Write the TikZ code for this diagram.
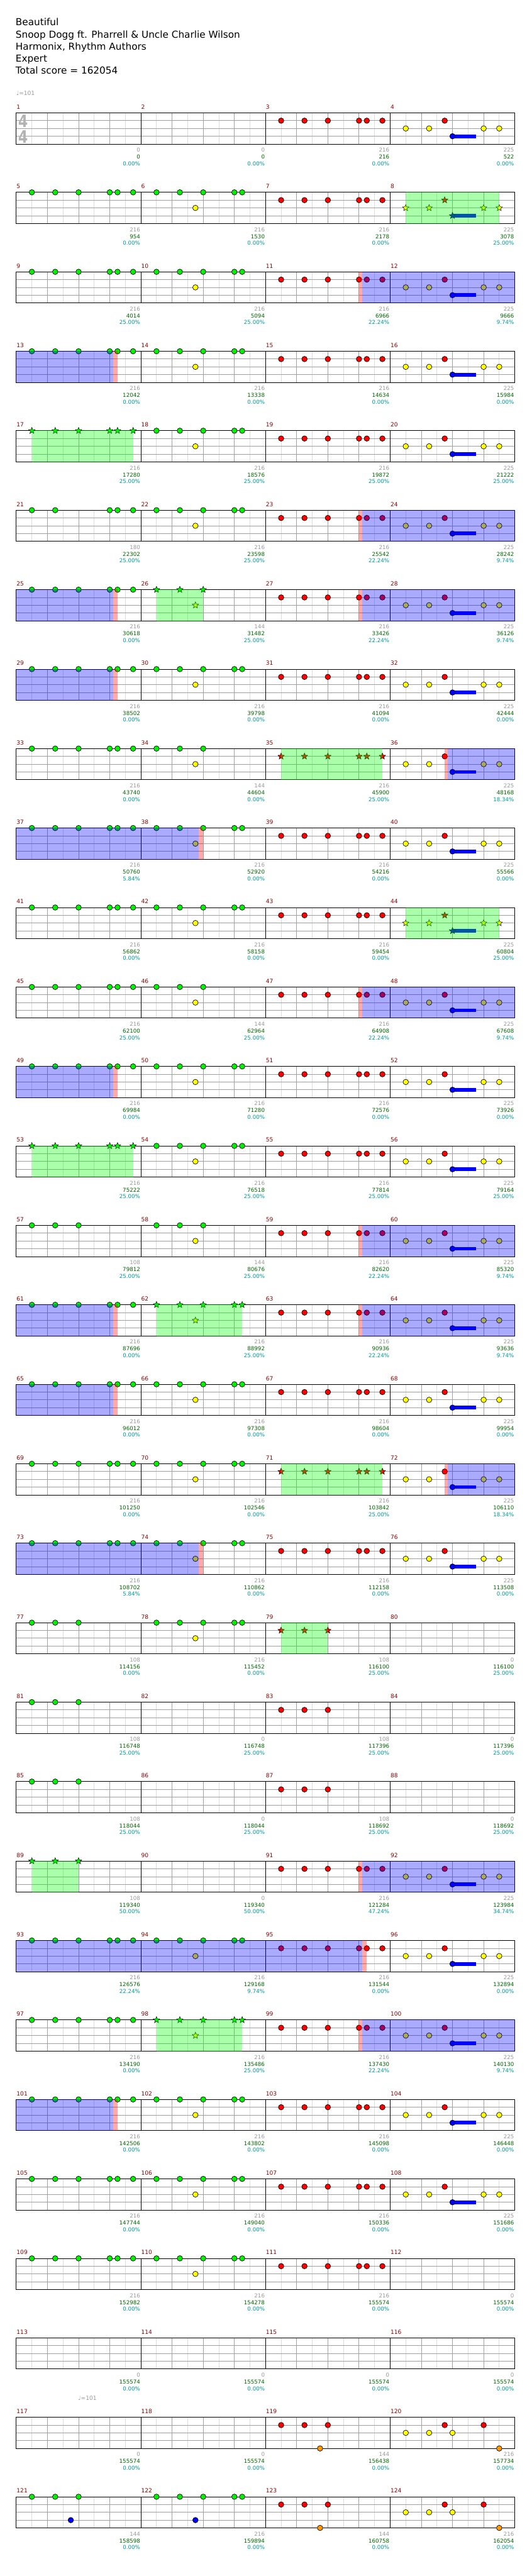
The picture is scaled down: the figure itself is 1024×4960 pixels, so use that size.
\documentclass[tikz,border=0pt]{standalone}
\usepackage{fontspec}
\setmainfont{DejaVu Sans}
\usepackage{tikz}
\usetikzlibrary{shapes.geometric}

\definecolor{barred}{RGB}{140,0,0}
\definecolor{scoregray}{RGB}{153,153,153}
\definecolor{totalgreen}{RGB}{0,100,0}
\definecolor{pctcyan}{RGB}{0,153,153}
\definecolor{gridlight}{RGB}{220,220,220}
\definecolor{gridmid}{RGB}{160,160,160}
\definecolor{gemgreen}{RGB}{0,240,0}
\definecolor{gemred}{RGB}{255,0,0}
\definecolor{gemyellow}{RGB}{255,255,0}
\definecolor{gemblue}{RGB}{0,0,255}
\definecolor{gemorange}{RGB}{255,153,0}

\newcommand\nt[4]{\node[#1,fill=#4] (g\thism-#2-#3) at (15*#2,15*#3) {};}
\newcommand\patA[1]{\foreach \p in {2,5,8,12,13,15}{\nt{#1}{\p}{0}{gemgreen}}}
\newcommand\patAs[1]{\foreach \p in {2,5,8}{\nt{#1}{\p}{0}{gemgreen}}}
\newcommand\patAg[1]{\foreach \p in {2,5,12,13,15}{\nt{#1}{\p}{0}{gemgreen}}}
\newcommand\patB[1]{\nt{#1}{7}{2}{gemyellow}\foreach \p in {2,5,8,12,13}{\nt{#1}{\p}{0}{gemgreen}}}
\newcommand\patBs[1]{\nt{#1}{7}{2}{gemyellow}\foreach \p in {2,5,8}{\nt{#1}{\p}{0}{gemgreen}}}
\newcommand\patC[1]{\foreach \p in {2,5,8,12,13,15}{\nt{#1}{\p}{1}{gemred}}}
\newcommand\patCs[1]{\foreach \p in {2,5,8}{\nt{#1}{\p}{1}{gemred}}}
\newcommand\patD[1]{\fill[sustain] (120,41.5) rectangle (165,48.5);
  \foreach \p in {2,5,12,14}{\nt{#1}{\p}{2}{gemyellow}}\nt{#1}{7}{1}{gemred}\nt{#1}{8}{3}{gemblue}}
\newcommand\patE{\foreach \p in {2,5,8}{\nt{gem}{\p}{1}{gemred}}\nt{gem}{7}{4}{gemorange}}
\newcommand\patF{\foreach \p in {2,5,8}{\nt{gem}{\p}{2}{gemyellow}}\foreach \p in {7,12}{\nt{gem}{\p}{1}{gemred}}\nt{gem}{14}{4}{gemorange}}
\newcommand\patG{\foreach \p in {2,5,8}{\nt{gem}{\p}{0}{gemgreen}}\nt{gem}{7}{3}{gemblue}}
\newcommand\patH{\foreach \p in {2,5,8,12,13}{\nt{gem}{\p}{0}{gemgreen}}\nt{gem}{7}{3}{gemblue}}
\newcommand\spzone[2]{\fill[starzone] (15*#1,-0.5) rectangle (15*#2,60.5);}

\newcommand\meas[5]{%
  \pgfmathtruncatemacro\mrow{(#1-1)/4}%
  \pgfmathtruncatemacro\mcol{#1-1-4*\mrow}%
  \def\thism{#1}%
  \begin{scope}[shift={(31.33+240*\mcol,217.33+153*\mrow)}]
    \node[barnum] (num#1) at (0.5,-7.3) {#1};
    #5
    \node[score=scoregray] (pts#1) at (238.7,75.4) {#2};
    \node[score=totalgreen] (tot#1) at (238.7,88.7) {#3};
    \node[score=pctcyan] (pct#1) at (238.7,101.4) {#4\%};
  \end{scope}}

\newcommand\odstart[2]{%
  \pgfmathsetmacro\odt{217.33+153*(#1-1)}%
  \fill[odmark] (#2,\odt-0.5) rectangle (#2+6,\odt+60.5);
  \fill[odzone] (#2+6,\odt-0.5) rectangle (991.83,\odt+60.5);}
\newcommand\odend[2]{%
  \pgfmathsetmacro\odt{217.33+153*(#1-1)}%
  \fill[odzone] (30.83,\odt-0.5) rectangle (#2-8.5,\odt+60.5);
  \fill[odmark] (#2-8.5,\odt-0.5) rectangle (#2,\odt+60.5);}

\begin{document}
\begin{tikzpicture}[x=1pt, y=-1pt,
  headline/.style={anchor=base west, inner sep=0, font=\fontsize{18.5}{22}\selectfont},
  tempo/.style={anchor=base west, inner sep=0, text=scoregray, font=\fontsize{11}{13}\selectfont},
  timesig/.style={inner sep=0, text=gray!60, xscale=0.8, font=\fontsize{33}{36}\selectfont\bfseries},
  barnum/.style={anchor=base west, inner sep=0, text=barred, font=\fontsize{11}{13}\selectfont},
  score/.style={anchor=base east, inner sep=0, text=#1, font=\fontsize{10.5}{12}\selectfont},
  offbeat/.style={draw=gridlight, line width=1pt},
  beat/.style={draw=gridmid, line width=1pt},
  lane/.style={draw=gridmid, line width=1pt},
  barline/.style={draw=black, line width=1pt},
  gem/.style={circle, draw=black, line width=0.8pt, minimum size=10.5pt, inner sep=0},
  sgem/.style={star, star points=5, star point ratio=2.3, draw=black, line width=0.6pt, minimum size=13pt, inner sep=0},
  sustain/.style={fill=gemblue},
  starzone/.style={fill=green, fill opacity=0.333},
  odzone/.style={fill=blue, fill opacity=0.333},
  odmark/.style={fill=red, fill opacity=0.333},
]
\useasboundingbox (0,0) rectangle (1024,4960);
\fill[white] (0,0) rectangle (1024,4960);

\node[headline] (song) at (30,49.3) {Beautiful};
\node[headline] (artist) at (30,72.7) {Snoop Dogg ft.  Pharrell \& Uncle Charlie Wilson};
\node[headline] (authors) at (30,96) {Harmonix,  Rhythm  Authors};
\node[headline] (level) at (30,118.7) {Expert};
\node[headline] (total) at (30,141.7) {Total score = 162054};
\node[tempo] (bpm1) at (31.33,184) {♩=101};
\node[tempo] (bpm2) at (150.5,4621.6) {♩=101};

\foreach \r in {0,...,30} {
  \begin{scope}[shift={(31.33,217.33+153*\r)}]
    \foreach \x in {30,90,...,930} \draw[offbeat] (\x,0) -- (\x,60);
    \foreach \x in {60,120,180,300,360,420,540,600,660,780,840,900} \draw[beat] (\x,0) -- (\x,60);
    \foreach \yy in {15,30,45} \draw[lane] (0,\yy) -- (960,\yy);
    \foreach \x in {240,480,720} \draw[barline] (\x,0) -- (\x,60);
    \draw[barline] (0,0) rectangle (960,60);
  \end{scope}}

\node[timesig] (tsigtop) at (44.5,233) {4};
\node[timesig] (tsigbot) at (44.5,263) {4};

\meas{1}{0}{0}{0.00}{}
\meas{2}{0}{0}{0.00}{}
\meas{3}{216}{216}{0.00}{\patC{gem}}
\meas{4}{225}{522}{0.00}{\patD{gem}}
\meas{5}{216}{954}{0.00}{\patA{gem}}
\meas{6}{216}{1530}{0.00}{\patB{gem}}
\meas{7}{216}{2178}{0.00}{\patC{gem}}
\meas{8}{225}{3078}{25.00}{\patD{sgem}\spzone{2}{14}}
\meas{9}{216}{4014}{25.00}{\patA{gem}}
\meas{10}{216}{5094}{25.00}{\patB{gem}}
\meas{11}{216}{6966}{22.24}{\patC{gem}}
\meas{12}{225}{9666}{9.74}{\patD{gem}}
\meas{13}{216}{12042}{0.00}{\patA{gem}}
\meas{14}{216}{13338}{0.00}{\patB{gem}}
\meas{15}{216}{14634}{0.00}{\patC{gem}}
\meas{16}{225}{15984}{0.00}{\patD{gem}}
\meas{17}{216}{17280}{25.00}{\patA{sgem}\spzone{2}{15}}
\meas{18}{216}{18576}{25.00}{\patB{gem}}
\meas{19}{216}{19872}{25.00}{\patC{gem}}
\meas{20}{225}{21222}{25.00}{\patD{gem}}
\meas{21}{180}{22302}{25.00}{\patAg{gem}}
\meas{22}{216}{23598}{25.00}{\patB{gem}}
\meas{23}{216}{25542}{22.24}{\patC{gem}}
\meas{24}{225}{28242}{9.74}{\patD{gem}}
\meas{25}{216}{30618}{0.00}{\patA{gem}}
\meas{26}{144}{31482}{25.00}{\patBs{sgem}\spzone{2}{8}}
\meas{27}{216}{33426}{22.24}{\patC{gem}}
\meas{28}{225}{36126}{9.74}{\patD{gem}}
\meas{29}{216}{38502}{0.00}{\patA{gem}}
\meas{30}{216}{39798}{0.00}{\patB{gem}}
\meas{31}{216}{41094}{0.00}{\patC{gem}}
\meas{32}{225}{42444}{0.00}{\patD{gem}}
\meas{33}{216}{43740}{0.00}{\patA{gem}}
\meas{34}{144}{44604}{0.00}{\patBs{gem}}
\meas{35}{216}{45900}{25.00}{\patC{sgem}\spzone{2}{15}}
\meas{36}{225}{48168}{18.34}{\patD{gem}}
\meas{37}{216}{50760}{5.84}{\patA{gem}}
\meas{38}{216}{52920}{0.00}{\patB{gem}}
\meas{39}{216}{54216}{0.00}{\patC{gem}}
\meas{40}{225}{55566}{0.00}{\patD{gem}}
\meas{41}{216}{56862}{0.00}{\patA{gem}}
\meas{42}{216}{58158}{0.00}{\patB{gem}}
\meas{43}{216}{59454}{0.00}{\patC{gem}}
\meas{44}{225}{60804}{25.00}{\patD{sgem}\spzone{2}{14}}
\meas{45}{216}{62100}{25.00}{\patA{gem}}
\meas{46}{144}{62964}{25.00}{\patBs{gem}}
\meas{47}{216}{64908}{22.24}{\patC{gem}}
\meas{48}{225}{67608}{9.74}{\patD{gem}}
\meas{49}{216}{69984}{0.00}{\patA{gem}}
\meas{50}{216}{71280}{0.00}{\patB{gem}}
\meas{51}{216}{72576}{0.00}{\patC{gem}}
\meas{52}{225}{73926}{0.00}{\patD{gem}}
\meas{53}{216}{75222}{25.00}{\patA{sgem}\spzone{2}{15}}
\meas{54}{216}{76518}{25.00}{\patB{gem}}
\meas{55}{216}{77814}{25.00}{\patC{gem}}
\meas{56}{225}{79164}{25.00}{\patD{gem}}
\meas{57}{108}{79812}{25.00}{\patAs{gem}}
\meas{58}{144}{80676}{25.00}{\patBs{gem}}
\meas{59}{216}{82620}{22.24}{\patC{gem}}
\meas{60}{225}{85320}{9.74}{\patD{gem}}
\meas{61}{216}{87696}{0.00}{\patA{gem}}
\meas{62}{216}{88992}{25.00}{\patB{sgem}\spzone{2}{13}}
\meas{63}{216}{90936}{22.24}{\patC{gem}}
\meas{64}{225}{93636}{9.74}{\patD{gem}}
\meas{65}{216}{96012}{0.00}{\patA{gem}}
\meas{66}{216}{97308}{0.00}{\patB{gem}}
\meas{67}{216}{98604}{0.00}{\patC{gem}}
\meas{68}{225}{99954}{0.00}{\patD{gem}}
\meas{69}{216}{101250}{0.00}{\patA{gem}}
\meas{70}{216}{102546}{0.00}{\patB{gem}}
\meas{71}{216}{103842}{25.00}{\patC{sgem}\spzone{2}{15}}
\meas{72}{225}{106110}{18.34}{\patD{gem}}
\meas{73}{216}{108702}{5.84}{\patA{gem}}
\meas{74}{216}{110862}{0.00}{\patB{gem}}
\meas{75}{216}{112158}{0.00}{\patC{gem}}
\meas{76}{225}{113508}{0.00}{\patD{gem}}
\meas{77}{108}{114156}{0.00}{\patAs{gem}}
\meas{78}{216}{115452}{0.00}{\patB{gem}}
\meas{79}{108}{116100}{25.00}{\patCs{sgem}\spzone{2}{8}}
\meas{80}{0}{116100}{25.00}{}
\meas{81}{108}{116748}{25.00}{\patAs{gem}}
\meas{82}{0}{116748}{25.00}{}
\meas{83}{108}{117396}{25.00}{\patCs{gem}}
\meas{84}{0}{117396}{25.00}{}
\meas{85}{108}{118044}{25.00}{\patAs{gem}}
\meas{86}{0}{118044}{25.00}{}
\meas{87}{108}{118692}{25.00}{\patCs{gem}}
\meas{88}{0}{118692}{25.00}{}
\meas{89}{108}{119340}{50.00}{\patAs{sgem}\spzone{2}{8}}
\meas{90}{0}{119340}{50.00}{}
\meas{91}{216}{121284}{47.24}{\patC{gem}}
\meas{92}{225}{123984}{34.74}{\patD{gem}}
\meas{93}{216}{126576}{22.24}{\patA{gem}}
\meas{94}{216}{129168}{9.74}{\patB{gem}}
\meas{95}{216}{131544}{0.00}{\patC{gem}}
\meas{96}{225}{132894}{0.00}{\patD{gem}}
\meas{97}{216}{134190}{0.00}{\patA{gem}}
\meas{98}{216}{135486}{25.00}{\patB{sgem}\spzone{2}{13}}
\meas{99}{216}{137430}{22.24}{\patC{gem}}
\meas{100}{225}{140130}{9.74}{\patD{gem}}
\meas{101}{216}{142506}{0.00}{\patA{gem}}
\meas{102}{216}{143802}{0.00}{\patB{gem}}
\meas{103}{216}{145098}{0.00}{\patC{gem}}
\meas{104}{225}{146448}{0.00}{\patD{gem}}
\meas{105}{216}{147744}{0.00}{\patA{gem}}
\meas{106}{216}{149040}{0.00}{\patB{gem}}
\meas{107}{216}{150336}{0.00}{\patC{gem}}
\meas{108}{225}{151686}{0.00}{\patD{gem}}
\meas{109}{216}{152982}{0.00}{\patA{gem}}
\meas{110}{216}{154278}{0.00}{\patB{gem}}
\meas{111}{216}{155574}{0.00}{\patC{gem}}
\meas{112}{0}{155574}{0.00}{}
\meas{113}{0}{155574}{0.00}{}
\meas{114}{0}{155574}{0.00}{}
\meas{115}{0}{155574}{0.00}{}
\meas{116}{0}{155574}{0.00}{}
\meas{117}{0}{155574}{0.00}{}
\meas{118}{0}{155574}{0.00}{}
\meas{119}{144}{156438}{0.00}{\patE}
\meas{120}{216}{157734}{0.00}{\patF}
\meas{121}{144}{158598}{0.00}{\patG}
\meas{122}{216}{159894}{0.00}{\patH}
\meas{123}{144}{160758}{0.00}{\patE}
\meas{124}{216}{162054}{0.00}{\patF}

\odstart{3}{691.33} \odend{4}{226.33}
\odstart{6}{691.33} \odend{7}{226.33}
\odstart{7}{691.33} \odend{8}{226.33}
\odstart{9}{856.33} \odend{10}{391.33}
\odstart{12}{691.33} \odend{13}{226.33}
\odstart{15}{691.33} \odend{16}{226.33}
\odstart{16}{691.33} \odend{17}{226.33}
\odstart{18}{856.33} \odend{19}{391.33}
\odstart{23}{691.33} \odend{24}{706.33}
\odstart{25}{691.33} \odend{26}{226.33}
\end{tikzpicture}
\end{document}
